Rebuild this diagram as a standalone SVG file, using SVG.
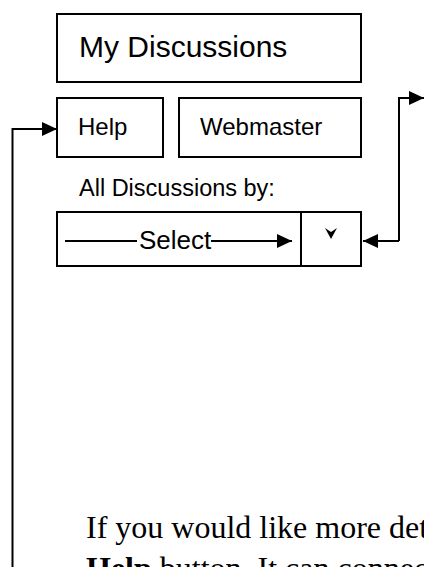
<svg xmlns="http://www.w3.org/2000/svg" width="424" height="567" viewBox="0 0 424 567">
  <style>
    .box { fill: #fff; stroke: #000; stroke-width: 2; }
    .lbl { font-family: "Liberation Sans", Arial, sans-serif; fill: #000; }
    .conn { fill: none; stroke: #000; stroke-width: 2; }
    .body { font-family: "Liberation Serif", "Times New Roman", serif; font-size: 32px; fill: #000; }
  </style>
  <defs>
    <marker id="arr" markerUnits="userSpaceOnUse" markerWidth="16" markerHeight="14" refX="15" refY="7" orient="auto">
      <path d="M0,0 L15,7 L0,14 Z" fill="#000"/>
    </marker>
  </defs>
  <rect width="424" height="567" fill="#fff"/>

  <g id="title">
    <rect class="box" x="57" y="14" width="304" height="68"/>
    <text class="lbl" x="79" y="57" font-size="30">My Discussions</text>
  </g>
  <g id="help">
    <rect class="box" x="57" y="98" width="106" height="59"/>
    <text class="lbl" x="78" y="135" font-size="24">Help</text>
  </g>
  <g id="webmaster">
    <rect class="box" x="179" y="98" width="182" height="59"/>
    <text class="lbl" x="200" y="135" font-size="24">Webmaster</text>
  </g>
  <g id="all-label">
    <text class="lbl" x="79" y="196" font-size="23.5">All Discussions by:</text>
  </g>
  <g id="select">
    <rect class="box" x="57" y="212" width="244" height="54"/>
    <text class="lbl" x="139" y="249" font-size="26">Select</text>
  </g>
  <g id="dropdown">
    <rect class="box" x="301" y="212" width="60" height="54"/>
    <path d="M325,228 L331,232 L337,228 L331,239 Z" fill="#000"/>
  </g>

  <g id="connectors">
    <line class="conn" x1="65" y1="241" x2="137" y2="241"/>
    <line class="conn" x1="211" y1="241" x2="292" y2="241" marker-end="url(#arr)"/>
    <polyline class="conn" points="12.5,567 12.5,129 57,129" marker-end="url(#arr)"/>
    <polyline class="conn" points="399,241 399,98 424,98" marker-end="url(#arr)"/>
    <line class="conn" x1="399" y1="241" x2="363" y2="241" marker-end="url(#arr)"/>
  </g>

  <g id="note">
    <text class="body" x="86" y="538">If you would like more det</text>
    <text class="body" x="86" y="579"><tspan font-weight="bold">Help</tspan> button. It can connec</text>
  </g>
</svg>
